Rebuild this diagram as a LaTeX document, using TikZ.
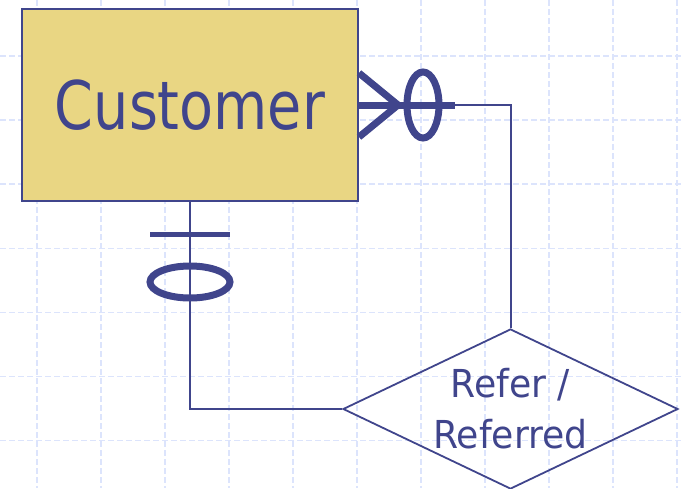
\documentclass[tikz,border=0pt]{standalone}
\usepackage{fontspec}
\usetikzlibrary{shapes.geometric,calc}
\newfontfamily\entfont[FakeStretch=0.83]{DejaVu Sans}
\newfontfamily\relfont[FakeStretch=0.94]{DejaVu Sans}
\definecolor{erblue}{RGB}{64,69,140}
\definecolor{entfill}{RGB}{233,214,131}
\definecolor{gridblue}{RGB}{220,228,252}
\begin{document}
\begin{tikzpicture}[x=1pt,y=-1pt,
  gridline/.style={gridblue, line width=1.6pt, dash pattern=on 6pt off 3pt},
  entity/.style={draw=erblue, line width=2pt, fill=entfill, minimum width=336pt,
    minimum height=192pt, inner sep=0pt, text=erblue,
    font=\entfont\fontsize{67}{67}\selectfont},
  relation/.style={diamond, draw=erblue, line width=1.8pt, minimum width=335pt,
    minimum height=160pt, inner sep=0pt},
  reltext/.style={text=erblue, align=center, inner sep=0pt,
    font=\relfont\fontsize{38.5}{51}\selectfont},
  conn/.style={draw=erblue, line width=2pt},
  heavy/.style={draw=erblue, line width=7pt},
  bar/.style={draw=erblue, line width=5pt}]
\useasboundingbox (0,0) rectangle (683,488);
% background grid
\foreach \gx in {37,101,...,677} \draw[gridline] (\gx,0) -- (\gx,488);
\foreach \k in {0,...,6} \draw[gridline] (0,{56+64.1*\k}) -- (683,{56+64.1*\k});
% entity and relationship
\node[entity] (cust) at (190,105) {Customer};
\node[relation] (ref) at (510.5,409) {};
\node[reltext] (reflabel) at (ref.center) {Refer /\\Referred};
% connectors
\draw[conn] (cust.east) -| (ref.north);
\draw[conn] (cust.south) |- (ref.west);
% zero-or-many end at the customer's side
\coordinate (cfend) at ($(cust.east)+(96,0)$);
\coordinate (cftip) at ($(cust.east)+(39,0)$);
\draw[heavy] (cust.east) -- (cfend);
\draw[heavy] ($(cust.east)+(0,-32)$) -- (cftip) -- ($(cust.east)+(0,32)$);
\draw[heavy] ($(cust.east)+(64,0)$) ellipse [x radius=16pt, y radius=33pt];
% zero-or-one end below the customer
\draw[bar] ($(cust.south)+(-40,32)$) -- ($(cust.south)+(40,32)$);
\draw[heavy] ($(cust.south)+(0,80)$) ellipse [x radius=40pt, y radius=16pt];
\end{tikzpicture}
\end{document}
